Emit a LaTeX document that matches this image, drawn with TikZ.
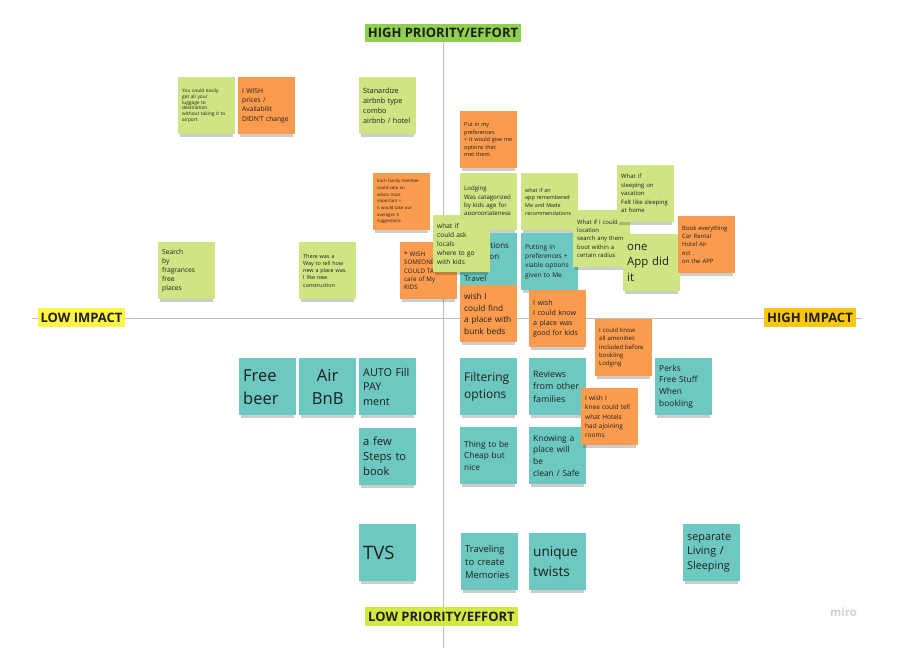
\documentclass[tikz,border=0pt]{standalone}
\usepackage{fontspec}
\setmainfont{Open Sans}
\usetikzlibrary{shadows,backgrounds}
\definecolor{ink}{HTML}{1F1F1F}
\definecolor{axisgray}{HTML}{BDBDBD}
\definecolor{leafgreen}{HTML}{CFE583}
\definecolor{tangerine}{HTML}{FA9B4D}
\definecolor{lagoon}{HTML}{6CC8C1}
\definecolor{prioritygreen}{HTML}{8FD14F}
\definecolor{prioritylime}{HTML}{D2EA3F}
\definecolor{impactyellow}{HTML}{FEF445}
\definecolor{impactamber}{HTML}{FAC710}
\tikzset{
  note/.style={rectangle, anchor=north west, minimum width=57pt, minimum height=57pt,
               text width=49pt, inner xsep=4pt, inner ysep=2pt, align=left, text=ink,
               drop shadow={shadow xshift=0pt, shadow yshift=-5pt, shadow scale=0.92, opacity=0.2, fill=black}},
  gnote/.style={note, fill=leafgreen},
  onote/.style={note, fill=tangerine},
  tnote/.style={note, fill=lagoon},
  sz/.style 2 args={font=\fontsize{#1}{#2}\selectfont},
  axislbl/.style={font=\fontsize{13}{15}\selectfont\bfseries, text=ink, inner xsep=3pt, minimum height=18.5pt},
  axisline/.style={draw=axisgray, line width=0.9pt}
}
\begin{document}
\begin{tikzpicture}[x=1pt, y=-1pt]
 \node[axislbl, fill=prioritygreen] (hp) at (443,33) {HIGH PRIORITY/EFFORT};
 \node[axislbl, fill=prioritylime] (lp) at (441.5,616.5) {LOW PRIORITY/EFFORT};
 \node[axislbl, fill=impactyellow] (li) at (81.5,317.5) {LOW IMPACT};
 \node[axislbl, fill=impactamber] (hi) at (810,317.5) {HIGH IMPACT};
 \coordinate (vbot) at (443,648);
 \coordinate (hleft) at (32,318);
 \coordinate (hright) at (862,318);
 \begin{scope}[on background layer]
  \fill[white] (0,0) rectangle (905,661);
  \draw[axisline] (hp.south) -- (vbot);
  \draw[axisline] (hleft) -- (hright);
 \end{scope}
 \useasboundingbox (0,0) rectangle (905,661);

 % low impact, high priority
 \node[gnote, sz={4.8}{5.7}] (luggage) at (178,77) {You could easily\\get all your\\luggage to\\destination\\without taking it to\\airport};
 \node[onote, sz={6.7}{9.2}] (prices) at (238,77) {I WISH\\prices /\\Availabilit\\DIDN'T change};
 \node[gnote, sz={7.25}{10}] (standard) at (359,77) {Stanardize\\airbnb type\\combo\\airbnb / hotel};
 \node[onote, sz={4.3}{6.7}] (vote) at (373,173) {Each family member\\could vote on\\whats most\\important +\\it would take our\\averages 3\\suggestions};
 \node[gnote, sz={6.7}{9.2}] (fragrance) at (158,242) {Search\\by\\fragrances\\free\\places};
 \node[gnote, sz={5.45}{7.2}] (newbuild) at (299,242) {There was a\\Way to tell how\\new a place was.\\I like new\\construction};

 % high impact, high priority
 \node[onote, sz={5.5}{7.5}] (prefs) at (460,111) {Put in my\\preferences\\+ it would give me\\options that\\met them.};
 \node[gnote, sz={6.1}{8.3}] (agegroup) at (460,173) {Lodging\\Was catagorized\\by kids age for\\appropriateness};
 \node[tnote, sz={8}{11}] (suggest) at (460,233) {\phantom{Sugge}stions\\\phantom{based }on\\[11pt]Travel};
 \node[onote, sz={6.2}{8.4}] (babysit) at (400,242) {* WISH\\SOMEONE\\COULD TA\\care of My\\KIDS};
 \node[gnote, sz={6.6}{9}] (locals) at (433,215) {what if\\could ask\\locals\\where to go\\with kids};
 \node[onote, sz={8.3}{11.5}] (bunkbeds) at (460,285) {wish I\\could find\\a place with\\bunk beds};
 \node[gnote, sz={5.4}{7.6}] (remember) at (521,173) {what if an\\app remembered\\Me and Made\\recommendations};
 \node[tnote, sz={6.6}{9.2}] (viable) at (521,233) {Putting in\\preferences +\\viable options\\given to Me};
 \node[gnote, sz={5.9}{8.4}] (radius) at (573,210) {What if I could\\location\\search any them\\boot within a\\certain radius};
 \node[gnote, sz={5.97}{8.5}] (sleephome) at (617,165) {What if\\sleeping on\\vacation\\Felt like sleeping\\at home};
 \node[gnote, sz={11.4}{15.5}] (oneapp) at (623,234) {one\\App did\\it};
 \node[onote, sz={5.95}{8.3}] (bookall) at (678,216) {Book everything\\Car Rental\\Hotel Air\\ect .\\on the APP};
 \node[onote, sz={7.15}{10}] (kidsplace) at (529,290) {I wish\\I could know\\a place was\\good for kids};

 % high impact, low priority
 \node[onote, sz={6}{8.3}] (amenities) at (595,319) {I could know\\all amenities\\included before\\bookling\\Lodging};
 \node[tnote, sz={12}{16.7}] (filtering) at (460,358) {Filtering\\options};
 \node[tnote, sz={8.9}{12.3}] (reviews) at (529,358) {Reviews\\from other\\families};
 \node[tnote, sz={8.4}{11.8}] (perks) at (655,358) {Perks\\Free Stuff\\When\\bookling};
 \node[tnote, sz={8.3}{11.7}] (cheap) at (460,427) {Thing to be\\Cheap but\\nice};
 \node[tnote, sz={8.4}{11.8}] (clean) at (529,427) {Knowing a\\place will\\be\\clean / Safe};
 \node[onote, sz={6.5}{9.2}] (adjoining) at (581,388) {I wish I\\knee could tell\\what Hotels\\had ajoining\\rooms};
 \node[tnote, sz={9.4}{13}] (memories) at (461,533) {Traveling\\to create\\Memories};
 \node[tnote, sz={13.6}{19.3}] (twists) at (529,533) {unique\\twists};
 \node[tnote, sz={10.8}{14.5}] (separate) at (683,524) {separate\\Living /\\Sleeping};

 % low impact, low priority
 \node[tnote, sz={16.5}{23}] (beer) at (239,358) {Free\\beer};
 \node[tnote, sz={16.6}{23}, align=center] (airbnb) at (299,358) {Air\\BnB};
 \node[tnote, sz={10.8}{14.7}] (autofill) at (359,358) {AUTO Fill\\PAY\\ment};
 \node[tnote, sz={11.2}{15}] (fewsteps) at (359,428) {a few\\Steps to\\book};
 \node[tnote, sz={18.5}{22}] (tvs) at (359,524) {TVS};

 \node[font=\fontsize{11.5}{13}\selectfont\bfseries, text=black!18] (logo) at (843.5,612) {miro};
\end{tikzpicture}
\end{document}
